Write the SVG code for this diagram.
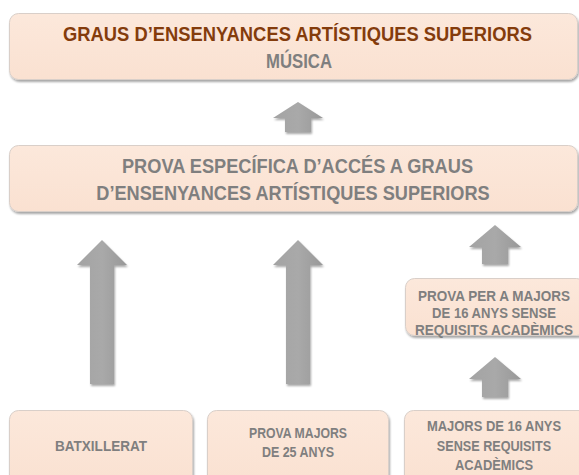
<svg xmlns="http://www.w3.org/2000/svg" width="579" height="475" viewBox="0 0 579 475">
<defs>
<linearGradient id="boxg" x1="0" y1="0" x2="0" y2="1">
<stop offset="0" stop-color="#fce8db"/>
<stop offset="1" stop-color="#fae1d1"/>
</linearGradient>
<linearGradient id="arrg" x1="0" y1="0" x2="1" y2="0">
<stop offset="0" stop-color="#a3a3a3"/>
<stop offset="0.5" stop-color="#a9a9a9"/>
<stop offset="1" stop-color="#989898"/>
</linearGradient>
<filter id="sh" x="-10%" y="-20%" width="120%" height="150%">
<feGaussianBlur in="SourceAlpha" stdDeviation="1.2"/>
<feOffset dx="1" dy="2" result="b"/>
<feComponentTransfer><feFuncA type="linear" slope="0.35"/></feComponentTransfer>
<feMerge><feMergeNode/><feMergeNode in="SourceGraphic"/></feMerge>
</filter>
</defs>
<style>
.box{fill:url(#boxg);stroke:#d9cfc9;stroke-width:1;filter:url(#sh)}
.arr{fill:url(#arrg);filter:url(#sh)}
text{font-family:"Liberation Sans",Arial,sans-serif;font-weight:bold;text-anchor:middle}
.t1{fill:#843c0c;font-size:20.5px}
.t2{fill:#7f7f7f;font-size:20.5px}
.t3{fill:#7f7f7f;font-size:15.5px}
</style>
<g id="node-graus">
<rect class="box" x="9.5" y="13.5" width="568" height="66" rx="9"/>
<text class="t1" transform="translate(297.5,41) scale(0.88,1)" x="0" y="0" textLength="533" lengthAdjust="spacingAndGlyphs">GRAUS D’ENSENYANCES ARTÍSTIQUES SUPERIORS</text>
<text class="t2" transform="translate(299,68) scale(0.88,1)" x="0" y="0" textLength="75" lengthAdjust="spacingAndGlyphs">MÚSICA</text>
</g>
<g id="node-prova-especifica">
<rect class="box" x="9.5" y="145.5" width="568" height="66" rx="9"/>
<text class="t2" transform="translate(297.5,173) scale(0.88,1)" x="0" y="0" textLength="399" lengthAdjust="spacingAndGlyphs">PROVA ESPECÍFICA D’ACCÉS A GRAUS</text>
<text class="t2" transform="translate(293,200) scale(0.88,1)" x="0" y="0" textLength="447" lengthAdjust="spacingAndGlyphs">D’ENSENYANCES ARTÍSTIQUES SUPERIORS</text>
</g>
<g id="node-prova-16">
<rect class="box" x="405.5" y="278.5" width="180" height="57" rx="9"/>
<text class="t3" transform="translate(494,301) scale(0.86,1)" x="0" y="0" textLength="177" lengthAdjust="spacingAndGlyphs">PROVA PER A MAJORS</text>
<text class="t3" transform="translate(494,318) scale(0.86,1)" x="0" y="0" textLength="144" lengthAdjust="spacingAndGlyphs">DE 16 ANYS SENSE</text>
<text class="t3" transform="translate(494,335) scale(0.86,1)" x="0" y="0" textLength="184" lengthAdjust="spacingAndGlyphs">REQUISITS ACADÈMICS</text>
</g>
<g id="node-batxillerat">
<rect class="box" x="9.5" y="410.5" width="183" height="75" rx="9"/>
<text class="t3" transform="translate(101,451) scale(0.86,1)" x="0" y="0" textLength="107" lengthAdjust="spacingAndGlyphs">BATXILLERAT</text>
</g>
<g id="node-prova-25">
<rect class="box" x="207.5" y="410.5" width="181" height="75" rx="9"/>
<text class="t3" transform="translate(298,438) scale(0.86,1)" x="0" y="0" textLength="114" lengthAdjust="spacingAndGlyphs">PROVA MAJORS</text>
<text class="t3" transform="translate(298,457) scale(0.86,1)" x="0" y="0" textLength="84" lengthAdjust="spacingAndGlyphs">DE 25 ANYS</text>
</g>
<g id="node-majors-16">
<rect class="box" x="404.5" y="410.5" width="185" height="75" rx="9"/>
<text class="t3" transform="translate(494,431) scale(0.86,1)" x="0" y="0" textLength="156" lengthAdjust="spacingAndGlyphs">MAJORS DE 16 ANYS</text>
<text class="t3" transform="translate(494,451) scale(0.86,1)" x="0" y="0" textLength="133" lengthAdjust="spacingAndGlyphs">SENSE REQUISITS</text>
<text class="t3" transform="translate(494,470) scale(0.86,1)" x="0" y="0" textLength="91" lengthAdjust="spacingAndGlyphs">ACADÈMICS</text>
</g>
<g id="connectors">
<polygon class="arr" points="298,102 323,118 311,118 311,132 285,132 285,118 273,118"/>
<polygon class="arr" points="102,240 127,265 114,265 114,384 90,384 90,265 77,265"/>
<polygon class="arr" points="298,240 323,265 310,265 310,384 286,384 286,265 273,265"/>
<polygon class="arr" points="495,225 521,247 508,247 508,264 482,264 482,247 469,247"/>
<polygon class="arr" points="495,357 521,379 508,379 508,397 482,397 482,379 469,379"/>
</g>
</svg>
